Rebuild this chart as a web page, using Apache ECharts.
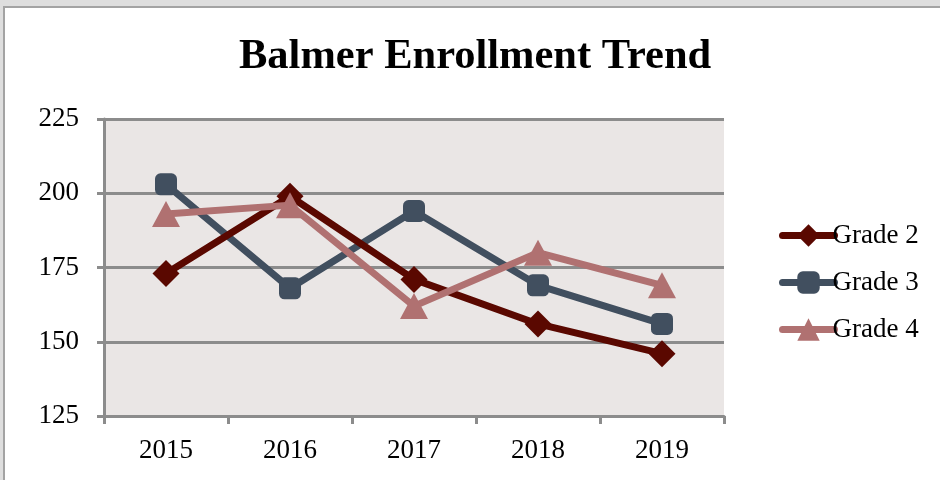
<!DOCTYPE html>
<html>
<head>
<meta charset="utf-8">
<script src="https://cdn.jsdelivr.net/npm/echarts@6/dist/echarts.min.js"></script>
<style>
  html, body { margin: 0; padding: 0; width: 940px; height: 480px; overflow: hidden; background: #dedede; }
  #frame { position: absolute; left: 3px; top: 6px; width: 1000px; height: 1000px; background: #ffffff; border: 2px solid #a3a3a3; box-sizing: border-box; }
  #chart { position: absolute; left: 0; top: 0; width: 940px; height: 480px; }
</style>
</head>
<body>
<div id="frame"></div>
<div id="chart"></div>
<script>
const titleText = 'Balmer Enrollment Trend';
const categories = ['2015', '2016', '2017', '2018', '2019'];
const grade2 = [173, 199, 171, 156, 146];
const grade3 = [203, 168, 194, 169, 156];
const grade4 = [193, 196, 162, 180, 169];
const seriesNames = ['Grade 2', 'Grade 3', 'Grade 4'];
const yMin = 125, yMax = 225, yStep = 25;

const FONT = '"Liberation Serif", "Times New Roman", serif';
const colors = ['#5a0800', '#414f5f', '#b07171'];

const chart = echarts.init(document.getElementById('chart'), null, { renderer: 'canvas' });
chart.setOption({
  animation: false,
  backgroundColor: 'transparent',
  title: {
    text: titleText,
    left: 234,
    top: 31,
    textStyle: { fontFamily: FONT, fontSize: 42.5, fontWeight: 'bold', color: '#000' }
  },
  legend: {
    orient: 'vertical',
    left: 774,
    top: 217,
    itemWidth: 52,
    itemHeight: 28,
    itemGap: 20,
    lineStyle: { width: 7, cap: 'round' },
    textStyle: { fontFamily: FONT, fontSize: 27, color: '#000', padding: [0, 0, 0, -7] },
    data: seriesNames
  },
  grid: {
    left: 104, right: 216, top: 119, bottom: 64,
    show: true, backgroundColor: '#eae6e5', borderWidth: 0
  },
  xAxis: {
    type: 'category',
    data: categories,
    boundaryGap: true,
    axisLine: { lineStyle: { color: '#8c8c8c', width: 3 } },
    axisTick: { show: true, length: 8, lineStyle: { color: '#8c8c8c', width: 3 } },
    axisLabel: { fontFamily: FONT, fontSize: 27, color: '#000', margin: 21 },
    splitLine: { show: false }
  },
  yAxis: {
    type: 'value',
    min: yMin, max: yMax, interval: yStep,
    axisLine: { show: true, lineStyle: { color: '#8c8c8c', width: 3 } },
    axisTick: { show: true, length: 7, lineStyle: { color: '#8c8c8c', width: 3 } },
    axisLabel: { fontFamily: FONT, fontSize: 27, color: '#000', margin: 25 },
    splitLine: { show: true, lineStyle: { color: '#8c8c8c', width: 3 } }
  },
  series: [
    {
      name: seriesNames[0], type: 'line', data: grade2,
      symbol: 'diamond', symbolSize: [27, 27],
      lineStyle: { color: colors[0], width: 7 },
      itemStyle: { color: colors[0] }, z: 3
    },
    {
      name: seriesNames[1], type: 'line', data: grade3,
      symbol: 'roundRect', symbolSize: 22,
      lineStyle: { color: colors[1], width: 7 },
      itemStyle: { color: colors[1] }, z: 2
    },
    {
      name: seriesNames[2], type: 'line', data: grade4,
      symbol: 'triangle', symbolSize: [28, 26],
      lineStyle: { color: colors[2], width: 7 },
      itemStyle: { color: colors[2] }, z: 4
    }
  ]
});
</script>
</body>
</html>
